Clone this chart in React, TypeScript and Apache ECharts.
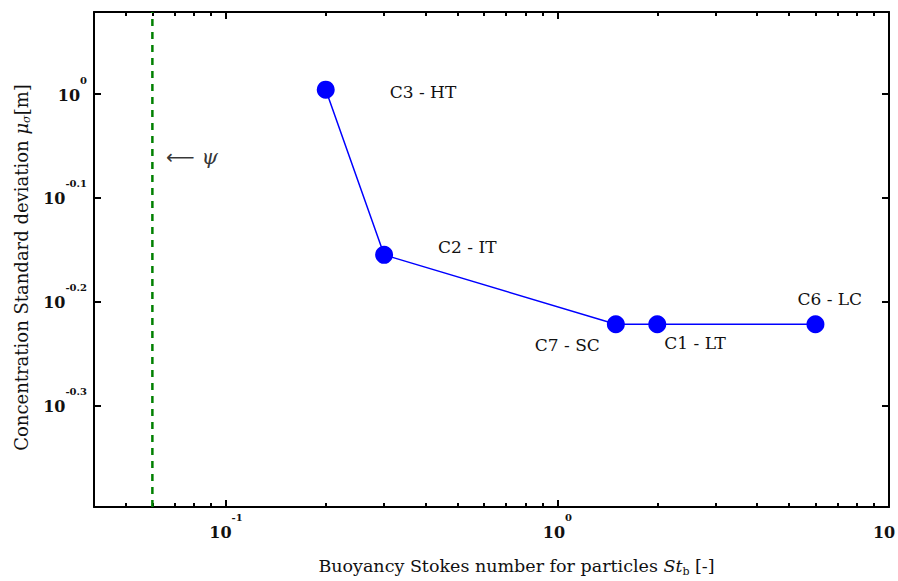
import React, { useEffect, useRef } from "react";
import * as echarts from "echarts";

// ---- data ----
const caseLabels = ["C3 - HT", "C2 - IT", "C7 - SC", "C1 - LT", "C6 - LC"];
const stokesValues = [0.2, 0.3, 1.5, 2, 6];
const stdDevValues = [1.01, 0.7, 0.6, 0.6, 0.6];
const psiValue = 0.06;
const psiArrowAnchor = [0.066, 0.87];
const xRange = [0.04, 10];
const yRange = [0.4, 1.2];
const xMajorTicks = [0.1, 1, 10];
const xMajorLabels = ["-1", "0", ""];
const xMinorTicks = [
  0.04, 0.05, 0.06, 0.07, 0.08, 0.09,
  0.2, 0.3, 0.4, 0.5, 0.6, 0.7, 0.8, 0.9,
  2, 3, 4, 5, 6, 7, 8, 9,
];
const yTickExponents = [0, -0.1, -0.2, -0.3];
const yTickLabels = ["0", "-0.1", "-0.2", "-0.3"];

// label placement (style)
const labelPlacement: { align: string; offset: number[] }[] = [
  { align: "left", offset: [64, 2] },
  { align: "left", offset: [54, -8] },
  { align: "right", offset: [-16, 21] },
  { align: "left", offset: [7, 19] },
  { align: "left", offset: [-18, -25] },
];

const lg = (v: number) => Math.log10(v);
const FONT = "DejaVu Serif";

export default function App() {
  const ref = useRef<HTMLDivElement>(null);
  useEffect(() => {
    if (!ref.current) return;
    const chart = echarts.init(ref.current, null, { renderer: "svg" });
    const xMin = lg(xRange[0]);
    const xMax = lg(xRange[1]);
    const yMin = lg(yRange[0]);
    const yMax = lg(yRange[1]);
    const xMajor = xMajorTicks.map(lg);
    const xMinor = xMinorTicks.map(lg);

    const tickLabelRich = {
      b: { fontFamily: FONT, fontSize: 16, fontWeight: "bold", color: "#111", lineHeight: 28, verticalAlign: "bottom" },
      s: { fontFamily: FONT, fontSize: 10, fontWeight: "bold", color: "#111", verticalAlign: "top" },
      e: { fontFamily: FONT, fontSize: 16, fontWeight: "bold", color: "#111", lineHeight: 28, verticalAlign: "bottom", padding: [0, 10, 0, 0] },
    };

    const axisLineStyle = { show: true, onZero: false, lineStyle: { color: "#000", width: 2 } };
    const noLine = { show: false, onZero: false };
    const tickStyle = { color: "#000", width: 2 };

    const baseX = {
      type: "value",
      min: xMin,
      max: xMax,
      splitLine: { show: false },
    };
    const baseY = {
      type: "value",
      min: yMin,
      max: yMax,
      splitLine: { show: false },
    };

    const lineData = stokesValues.map((x, i) => ({
      value: [lg(x), lg(stdDevValues[i])],
      label: {
        show: true,
        position: "inside",
        formatter: caseLabels[i],
        align: labelPlacement[i].align,
        verticalAlign: "middle",
        offset: labelPlacement[i].offset,
        fontFamily: FONT,
        fontSize: 17,
        color: "#111",
      },
    }));

    const nameRich = (fs: number) => ({
      n: { fontFamily: FONT, fontSize: fs, color: "#111", lineHeight: 22 },
      i: { fontFamily: FONT, fontSize: fs, fontStyle: "italic", color: "#111", lineHeight: 22 },
      sub: { fontFamily: FONT, fontSize: 11, color: "#111", lineHeight: 22, verticalAlign: "bottom" },
      isub: { fontFamily: FONT, fontSize: 11, fontStyle: "italic", color: "#111", lineHeight: 22, verticalAlign: "bottom" },
    });

    chart.setOption({
      animation: false,
      backgroundColor: "#ffffff",
      grid: { left: 94, right: 9, top: 12, bottom: 74, containLabel: false, outerBoundsMode: "none" },
      xAxis: [
        {
          ...baseX,
          position: "bottom",
          axisLine: axisLineStyle,
          axisTick: { show: true, inside: true, length: 7, customValues: xMajor, lineStyle: tickStyle },
          axisLabel: {
            show: true,
            customValues: xMajor,
            margin: 5,
            padding: [0, 0, 10, 0],
            formatter: (v: number) => {
              const idx = xMajor.findIndex((m) => Math.abs(m - v) < 1e-6);
              const sup = idx >= 0 ? xMajorLabels[idx] : "";
              return sup ? `{b|10}{s|${sup}}` : `{e|10}`;
            },
            rich: tickLabelRich,
          },
          name: "{n|Buoyancy Stokes number for particles }{i|St}{sub|b}{n| [-]}",
          nameLocation: "middle",
          nameGap: 48,
          nameTextStyle: { padding: [0, 0, 0, 50], rich: nameRich(17.5) },
        },
        {
          ...baseX,
          position: "bottom",
          axisLine: noLine,
          axisTick: { show: true, inside: true, length: 4, customValues: xMinor, lineStyle: tickStyle },
          axisLabel: { show: false },
        },
        {
          ...baseX,
          position: "top",
          axisLine: axisLineStyle,
          axisTick: { show: true, inside: true, length: 7, customValues: xMajor, lineStyle: tickStyle },
          axisLabel: { show: false },
        },
        {
          ...baseX,
          position: "top",
          axisLine: noLine,
          axisTick: { show: true, inside: true, length: 4, customValues: xMinor, lineStyle: tickStyle },
          axisLabel: { show: false },
        },
      ],
      yAxis: [
        {
          ...baseY,
          position: "left",
          axisLine: axisLineStyle,
          axisTick: { show: true, inside: true, length: 7, customValues: yTickExponents, lineStyle: tickStyle },
          axisLabel: {
            show: true,
            customValues: yTickExponents,
            margin: 7,
            padding: [0, 0, 10, 0],
            formatter: (v: number) => {
              const idx = yTickExponents.findIndex((m) => Math.abs(m - v) < 1e-6);
              return `{b|10}{s|${idx >= 0 ? yTickLabels[idx] : ""}}`;
            },
            rich: tickLabelRich,
          },
          name: "{n|Concentration Standard deviation }{i|μ}{isub|σ}{n|[m]}",
          nameLocation: "middle",
          nameGap: 62,
          nameTextStyle: { padding: [0, 16, 0, 0], rich: nameRich(18) },
        },
        {
          ...baseY,
          position: "right",
          axisLine: axisLineStyle,
          axisTick: { show: true, inside: true, length: 7, customValues: yTickExponents, lineStyle: tickStyle },
          axisLabel: { show: false },
        },
      ],
      series: [
        {
          type: "line",
          name: "psi",
          xAxisIndex: 0,
          yAxisIndex: 0,
          data: [
            [lg(psiValue), yMin],
            [lg(psiValue), yMax],
          ],
          symbol: "none",
          lineStyle: { color: "#008000", width: 2.5, type: [7, 6] },
          silent: true,
        },
        {
          type: "scatter",
          name: "psiLabel",
          xAxisIndex: 0,
          yAxisIndex: 0,
          symbolSize: 0,
          data: [[lg(psiArrowAnchor[0]), lg(psiArrowAnchor[1])]],
          label: {
            show: true,
            position: "inside",
            align: "left",
            verticalAlign: "middle",
            formatter: "{a|⟵}{p| ψ}",
            rich: {
              a: { fontFamily: "DejaVu Sans", fontSize: 20, color: "#000" },
              p: { fontFamily: FONT, fontSize: 21, fontStyle: "italic", color: "#000" },
            },
          },
          silent: true,
        },
        {
          type: "line",
          name: "cases",
          xAxisIndex: 0,
          yAxisIndex: 0,
          data: lineData,
          symbol: "circle",
          symbolSize: 18,
          itemStyle: { color: "#0000ff" },
          lineStyle: { color: "#0000ff", width: 1.5 },
          z: 5,
        },
      ],
    });
    return () => chart.dispose();
  }, []);
  return (
    <div
      ref={ref}
      style={{ position: "absolute", left: 0, top: 0, width: 898, height: 581, background: "#fff" }}
    />
  );
}
